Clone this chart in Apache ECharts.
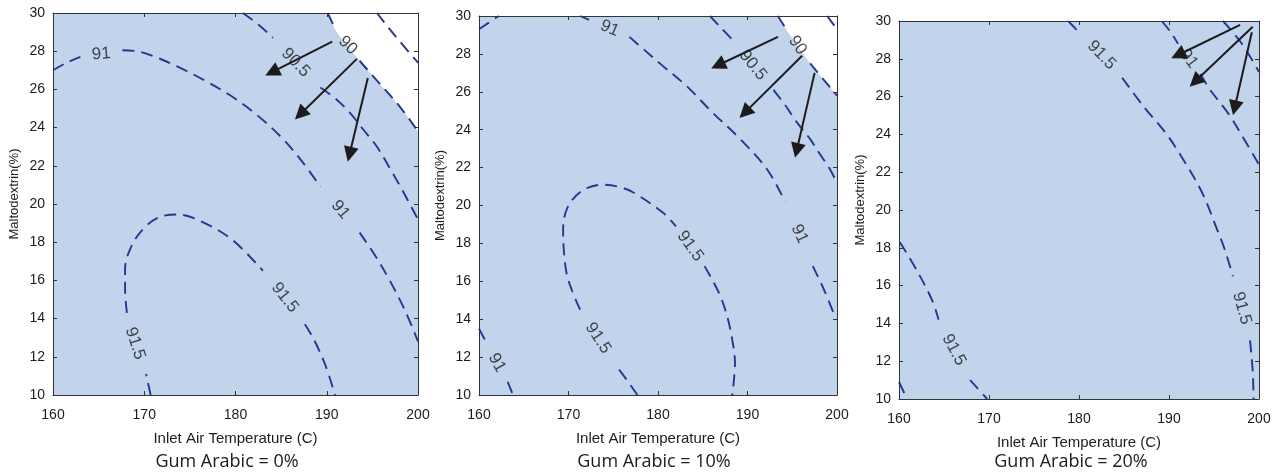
<!DOCTYPE html>
<html><head><meta charset="utf-8">
<script src="https://cdn.jsdelivr.net/npm/echarts@6/dist/echarts.min.js"></script>
<style>html,body{margin:0;padding:0;background:#fff}#c{width:1274px;height:476px}</style>
</head><body><div id="c"></div><script>
// ---------- axes / text ----------
const xTicks = [160, 170, 180, 190, 200];
const yTicks = [10, 12, 14, 16, 18, 20, 22, 24, 26, 28, 30];
const xTitle = 'Inlet Air Temperature (C)';
const yTitle = 'Maltodextrin(%)';
const captions = ['Gum Arabic = 0%', 'Gum Arabic = 10%', 'Gum Arabic = 20%'];

// ---------- panel 1 (Gum Arabic 0%) : contour lines, null = gap for label ----------
const p1_c915 = [[170.7,10],[170.2,11.1],null,[168.1,14.3],[167.9,15.5],[167.9,16.6],[168.6,17.8],[169.9,18.7],[171.6,19.3],[173.6,19.45],[176.2,19.1],[179.7,18.1],[183.0,16.5],null,[187.6,13.7],[188.6,12.9],[189.9,11.5],[190.9,10]];
const p1_c91  = [[160,27.0],[161.5,27.4],[163,27.7],null,[167.6,28.05],[169.2,28.0],[171.2,27.7],[173.6,27.2],[176.5,26.5],[179.7,25.6],[182.5,24.6],[185.2,23.4],[187.5,22.1],[189.3,20.9],null,[193.6,18.5],[195.3,17.3],[196.9,16.0],[198.6,14.4],[200,12.8]];
const p1_c905 = [[180.8,30],[182.5,29.4],[184.1,28.7],null,[189.3,26.1],[191.0,25.5],[192.5,24.8],[194.0,23.9],[195.5,23.0],[197.0,21.8],[198.2,20.8],[199.1,20.0],[200,19.2]];
const p1_c90  = [[190.1,30],[191.0,29.1],null,[193.6,27.5],[195.8,26.3],[198.0,25.1],[200,23.8]];
const p1_c895 = [[195.5,30],[197.5,28.8],[200,27.4]];
const p1_white = [[190.1,30],[191.1,29.0],[193.6,27.5],[195.8,26.3],[198.0,25.1],[200,23.8]];
const p1_labels = [[165.3,27.85,'91',5],[186.6,27.4,'90.5',-46],[192.3,28.3,'90',-45],[191.5,19.7,'91',-50],[185.4,15.1,'91.5',-52],[169.0,12.7,'91.5',-72]];
const p1_arrows = [[190.6,28.5,184.0,26.9],[193.3,27.6,187.1,24.7],[194.5,26.6,192.5,22.6]];

// ---------- panel 2 (Gum Arabic 10%) ----------
const p2_c91a = [[160,29.3],[162.2,30]];
const p2_c91  = [[171.3,30],[172.3,29.8],null,[176.8,28.9],[178.5,28.2],[180.2,27.5],[183.2,26.3],[186.1,24.9],[189.2,23.5],[192.2,21.9],[194.2,20.2],null,[197.3,16.8],[198.6,15.5],[199.8,14.1]];
const p2_c905 = [[185.8,30],[187.2,29.3],[188.4,28.7],null,[192.9,26.1],[194.2,25.3],[195.5,24.4],[197.0,23.5],[198.1,22.7],[199.1,22.0],[200,21.2]];
const p2_c90  = [[193.4,30],[194.2,29.4],null,[197.0,27.5],[198.4,26.7],[200,25.8]];
const p2_c895 = [[198.9,30],[200,29.3]];
const p2_white = [[193.4,30],[194.6,29.1],[197.0,27.5],[198.4,26.7],[200,25.8]];
const p2_c915 = [[177.7,10],[176.5,10.8],[175.4,11.5],null,[171.3,14.5],[170.4,15.5],[169.8,16.4],[169.5,17.5],[169.4,18.7],[169.9,19.9],[171.6,20.8],[173.9,21.1],[175.5,21.0],[177.2,20.7],[180.6,19.6],[182.0,18.9],null,[185.2,16.8],[186.8,15.4],[187.7,14.2],[188.3,12.9],[188.6,11.7],[188.3,10]];
const p2_c91b = [[160,13.5],[160.9,12.7],null,[163.2,10.7],[163.8,10]];
const p2_labels = [[174.6,29.35,'91',-23],[190.6,27.4,'90.5',-51],[195.6,28.45,'90',-55],[183.6,17.85,'91.5',-54],[195.8,18.5,'91',-66],[173.3,13.0,'91.5',-57],[162.0,11.7,'91',-61]];
const p2_arrows = [[193.4,28.9,186.7,27.4],[196.1,27.9,189.7,24.9],[197.5,27.0,195.5,22.9]];

// ---------- panel 3 (Gum Arabic 20%) ----------
const p3_c915a = [[178.8,30],[180.2,29.3],null,[184.8,27.0],[187.3,25.4],[189.6,24.1],[191.8,22.5],[193.7,20.9],[195.4,18.9],[196.2,17.9],[197.1,16.5],null,[199.0,13.1],[199.3,11.5],[199.4,10]];
const p3_c915b = [[160.1,18.3],[162.1,16.7],[163.7,15.2],[164.4,14.2],null,[167.9,11.0],[169.8,10]];
const p3_c915c = [[160,10.9],[160.9,10]];
const p3_c91   = [[189.2,30],[190.2,29.4],[191.0,28.8],null,[193.5,27.2],[194.5,26.4],[196.6,25.1],[198.4,23.7],[200,22.4]];
const p3_c905  = [[196.0,30],[198.1,28.8],[200,27.3]];
const p3_labels = [[182.5,28.2,'91.5',-46],[192.2,28.0,'91',-53],[198.1,14.8,'91.5',-75],[166.1,12.6,'91.5',-62]];
const p3_arrows = [[197.9,29.8,191.0,28.2],[199.3,29.7,192.9,26.8],[199.2,29.4,197.3,25.4]];

const panels = [
  {contours:[p1_c915,p1_c91,p1_c905,p1_c90,p1_c895], white:p1_white, labels:p1_labels, arrows:p1_arrows},
  {contours:[p2_c91a,p2_c91,p2_c905,p2_c90,p2_c895,p2_c915,p2_c91b], white:p2_white, labels:p2_labels, arrows:p2_arrows},
  {contours:[p3_c915a,p3_c915b,p3_c915c,p3_c91,p3_c905], white:null, labels:p3_labels, arrows:p3_arrows}
];

// ---------- layout ----------
const grids = [
  {left:53, top:13, width:365, height:382},
  {left:479, top:16, width:358, height:379},
  {left:899, top:21, width:360, height:378}
];
const captionX = [227, 654, 1071];
const FILL = '#c2d4ec', LINE = '#24378f', INK = '#1c1c1c';
const FONT = 'Liberation Sans';

function splitSegs(arr){
  const segs=[]; let cur=[];
  arr.forEach(p=>{ if(p===null){ if(cur.length) segs.push(cur); cur=[]; } else cur.push(p); });
  if(cur.length) segs.push(cur);
  return segs;
}

const xAxes=[], yAxes=[], series=[], titles=[];
grids.forEach((g,i)=>{
  const common = {gridIndex:i, type:'value', z:10, splitLine:{show:false},
    axisLine:{show:true, onZero:false, lineStyle:{color:'#333', width:1}},
    axisTick:{show:true, inside:true, length:4, lineStyle:{color:'#333'}}};
  xAxes.push(Object.assign({}, common, {position:'bottom', min:xTicks[0], max:xTicks[xTicks.length-1], interval:xTicks[1]-xTicks[0],
    axisLabel:{color:INK, fontSize:14, fontFamily:FONT, margin:13},
    name:xTitle, nameLocation:'middle', nameGap:36, nameTextStyle:{color:INK, fontSize:15, fontFamily:FONT}}));
  yAxes.push(Object.assign({}, common, {position:'left', min:yTicks[0], max:yTicks[yTicks.length-1], interval:yTicks[1]-yTicks[0],
    axisLabel:{color:INK, fontSize:14, fontFamily:FONT, margin:8},
    name:yTitle, nameLocation:'middle', nameGap:32, nameTextStyle:{color:INK, fontSize:13, fontFamily:FONT, padding:[0,0,0,20]}}));
});
grids.forEach((g,i)=>{
  xAxes.push({gridIndex:i, type:'value', position:'top', z:10, min:xTicks[0], max:xTicks[xTicks.length-1], interval:xTicks[1]-xTicks[0],
    axisLine:{show:true, onZero:false, lineStyle:{color:'#333'}}, axisTick:{show:true, inside:true, length:4, lineStyle:{color:'#333'}},
    axisLabel:{show:false}, splitLine:{show:false}});
  yAxes.push({gridIndex:i, type:'value', position:'right', z:10, min:yTicks[0], max:yTicks[yTicks.length-1], interval:yTicks[1]-yTicks[0],
    axisLine:{show:true, onZero:false, lineStyle:{color:'#333'}}, axisTick:{show:true, inside:true, length:4, lineStyle:{color:'#333'}},
    axisLabel:{show:false}, splitLine:{show:false}});
});

panels.forEach((p,i)=>{
  if(p.white){
    series.push({type:'line', xAxisIndex:i, yAxisIndex:i, data:p.white, showSymbol:false, symbol:'none', smooth:0.3,
      lineStyle:{width:0, opacity:0}, areaStyle:{color:'#ffffff', opacity:1, origin:'end'}, z:1, silent:true, animation:false});
  }
  p.contours.forEach(c=>{
    splitSegs(c).forEach(seg=>{
      series.push({type:'line', xAxisIndex:i, yAxisIndex:i, data:seg, showSymbol:false, symbol:'none', smooth:0.35,
        lineStyle:{color:LINE, width:1.9, type:[12,7]}, z:3, silent:true, animation:false});
    });
  });
  series.push({type:'scatter', xAxisIndex:i, yAxisIndex:i, symbolSize:1, itemStyle:{color:'rgba(0,0,0,0)'}, silent:true, animation:false, z:5,
    label:{show:true, position:'inside', color:INK, fontSize:17, fontFamily:FONT},
    data:p.labels.map(l=>({value:[l[0],l[1]], label:{formatter:l[2], rotate:l[3]}}))});
  series.push({type:'lines', coordinateSystem:'cartesian2d', xAxisIndex:i, yAxisIndex:i, silent:true, animation:false, z:6,
    symbol:['none','triangle'], symbolSize:15,
    lineStyle:{color:'#1c1c1c', width:2, opacity:1, curveness:0},
    data:p.arrows.map(a=>({coords:[[a[0],a[1]],[a[2],a[3]]]}))});
  titles.push({text:captions[i], left:captionX[i], top:453, textAlign:'center', padding:0,
    textStyle:{color:INK, fontSize:18, fontWeight:'normal', fontFamily:'Open Sans'}});
});

const chart = echarts.init(document.getElementById('c'), null, {renderer:'canvas'});
chart.setOption({
  animation:false,
  backgroundColor:'#ffffff',
  title:titles,
  grid:grids.map(g=>Object.assign({show:true, backgroundColor:FILL, borderWidth:0, containLabel:false}, g)),
  xAxis:xAxes, yAxis:yAxes, series:series
});
</script></body></html>
